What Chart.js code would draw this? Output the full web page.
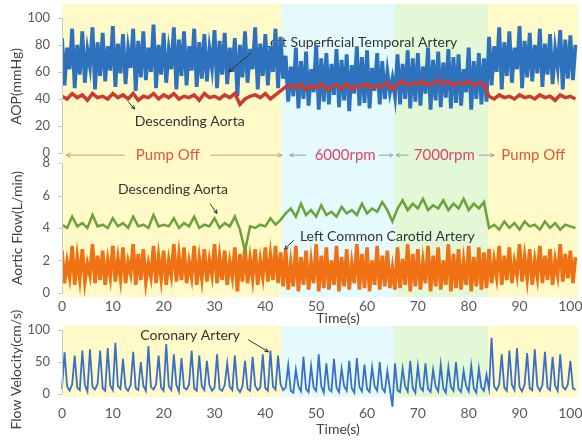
<!DOCTYPE html>
<html><head><meta charset="utf-8">
<script src="https://cdn.jsdelivr.net/npm/chart.js@4.4.1/dist/chart.umd.min.js"></script>
<style>
html,body{margin:0;padding:0;background:#fff;}
#wrap{position:relative;width:582px;height:443px;overflow:hidden;background:#fff;}
#c1{position:absolute;left:0;top:0;}
#c2{position:absolute;left:0;top:298px;}
</style></head><body>
<div id="wrap">
<canvas id="c1" width="582" height="330"></canvas>
<canvas id="c2" width="582" height="145"></canvas>
</div>
<script>
// ---------- data ----------
const fastStep = 0.5;   // s between samples of the dense waveforms
const slowStep = 1;     // s between samples of the narrow waveforms
const phaseNames = ['Pump Off', '6000rpm', '7000rpm', 'Pump Off'];
const phaseBounds = [0, 43.2, 65.4, 83.8, 101.5];
const xTicks = [0, 10, 20, 30, 40, 50, 60, 70, 80, 90, 100];
const aopTicks = [0, 20, 40, 60, 80, 100];
const flowTicks = [0, 2, 4, 6, 8];
const velTicks = [0, 50, 100];

// AOP, Left Superficial Temporal Artery (mmHg), every 0.5 s
const temporalAOP = [
 85,50,78,62,92,48,80,58,90,52,76,64,93,47,82,57,89,53,79,61,
 94,49,81,59,88,51,77,63,92,46,83,56,90,54,78,60,95,48,80,58,
 89,52,76,62,93,47,84,57,90,50,79,61,92,49,82,55,88,53,77,63,
 91,48,83,58,89,51,78,60,85,42,80,56,90,52,77,62,93,47,81,57,
 88,50,79,60,92,48,86,55,
 72,38,64,42,78,33,68,40,75,35,62,45,80,32,70,38,74,36,66,43,
 77,34,69,39,73,31,65,44,79,35,71,37,76,33,63,46,74,36,68,40,
 60,45,
 55,42,73,36,66,40,76,33,70,38,74,35,64,44,78,32,69,39,75,34,
 67,41,77,33,71,37,73,35,62,45,78,32,68,40,74,36,70,38,
 86,50,79,60,93,47,82,57,90,52,78,62,94,48,83,56,89,53,80,59,
 92,49,81,58,88,51,77,63,91,47,84,55,87,54,80
];
// AOP, Descending Aorta (mmHg), every 1 s
const descendingAOP = [
 42,40,44,41,43,39,44,41,42,40,
 44,41,43,40,44,39,42,41,44,40,
 43,41,44,40,42,41,43,39,44,41,
 42,40,43,41,44,36,40,42,43,41,
 44,40,43,46,49,50,48,51,47,50,
 48,51,47,49,50,48,51,47,50,49,
 51,48,50,49,52,47,51,53,50,52,
 51,53,50,52,54,51,53,50,52,51,
 53,50,52,51,42,40,43,41,42,40,
 43,41,42,40,43,41,42,39,43,41,
 42,40
];
// Aortic flow, Descending Aorta (L/min), every 1 s
const descendingFlow = [
 4.2,4.0,4.7,4.1,4.3,4.0,4.8,4.1,4.2,4.0,
 4.6,4.1,4.3,4.0,4.7,4.1,4.2,4.0,4.8,4.1,
 4.2,4.1,4.6,4.0,4.3,4.1,4.7,4.0,4.2,4.1,
 4.6,4.0,4.3,4.1,4.7,3.9,2.6,4.1,4.0,4.2,
 4.1,4.6,4.2,4.5,4.9,5.2,4.7,5.5,4.8,5.1,
 4.7,5.4,4.8,5.0,4.7,5.3,4.9,5.1,4.8,5.5,
 4.9,5.2,5.0,5.6,5.1,4.4,5.2,5.7,5.1,5.5,
 5.2,5.8,5.1,5.4,5.2,5.7,5.1,5.5,5.2,5.8,
 5.1,5.5,5.2,5.6,4.0,4.2,3.9,4.4,4.0,4.3,
 3.9,4.4,4.1,4.2,3.9,4.4,4.0,4.3,3.9,4.2,
 4.1,4.0
];
// Aortic flow, Left Common Carotid Artery (L/min), every 0.5 s
const carotidFlow = [
 2.6,0.6,1.9,1.0,2.9,0.5,2.2,0.9,2.7,0.7,1.8,1.1,3.0,0.6,2.3,0.8,2.6,0.5,2.0,1.0,
 2.9,0.7,2.1,0.9,2.8,0.6,1.9,1.2,3.0,0.5,2.4,0.8,2.7,0.7,1.8,1.0,2.9,0.6,2.2,0.9,
 2.6,0.5,2.0,1.1,3.0,0.7,2.3,0.8,2.8,0.6,1.9,1.0,2.9,0.5,2.1,0.9,2.7,0.7,2.0,1.1,
 3.0,0.6,2.2,0.8,2.6,0.5,1.9,1.0,2.8,0.1,2.4,0.7,2.9,0.6,2.1,0.9,2.7,0.5,2.0,1.0,
 2.8,0.7,2.3,0.8,2.9,0.6,2.5,0.4,
 2.7,0.2,1.8,0.4,2.9,0.1,2.2,0.5,2.6,0.2,1.9,0.6,3.0,0.1,2.3,0.3,2.8,0.2,2.0,0.5,
 2.9,0.1,2.2,0.4,2.7,0.2,1.8,0.6,3.0,0.2,2.4,0.3,2.8,0.1,2.0,0.5,2.9,0.2,2.3,0.4,
 2.6,0.3,
 1.5,0.2,2.8,0.3,2.1,0.5,3.0,0.1,2.4,0.4,2.7,0.2,1.9,0.6,2.9,0.1,2.3,0.4,2.8,0.2,
 2.0,0.5,3.0,0.1,2.4,0.3,2.7,0.2,1.9,0.5,2.9,0.1,2.2,0.4,2.8,0.2,2.5,0.3,
 2.7,0.6,2.0,1.0,2.9,0.5,2.3,0.8,2.8,0.6,1.9,1.1,3.0,0.7,2.2,0.9,2.7,0.5,2.0,1.0,
 2.9,0.6,2.3,0.8,2.7,0.5,2.0,1.1,3.0,0.7,2.4,0.9,2.6,0.6,2.2
];
// Flow velocity, Coronary Artery (cm/s), every 0.5 s
const coronaryVel = [
 8,65,12,5,15,60,10,6,68,14,4,70,11,7,16,68,9,5,72,13,
 6,80,12,8,55,10,5,14,66,9,6,50,13,5,75,11,7,15,60,10,
 5,78,12,6,62,14,4,56,10,7,15,68,9,5,60,12,6,52,14,5,
 10,62,8,5,14,48,11,6,60,9,3,12,52,8,5,58,13,6,10,62,
 9,5,68,12,7,60,15,6,
 10,45,5,2,38,12,4,58,8,3,44,10,5,62,12,2,48,8,4,55,
 10,3,40,12,5,52,9,2,56,11,4,46,8,3,42,12,5,50,9,3,
 36,8,
 -20,48,6,3,40,12,4,52,9,2,44,10,5,48,8,3,38,12,4,46,
 9,2,42,11,5,50,8,3,36,12,4,44,9,2,40,10,5,30,
 8,88,12,6,15,62,10,5,68,14,6,72,11,4,15,64,9,6,70,12,
 5,14,66,10,6,58,13,5,62,11,7,15,52,9,6
];

// ---------- styling ----------
const FONT = 'Lato, "Open Sans", sans-serif';
const TICK_COLOR = '#595959';
const phaseColors = ['rgba(255,250,200,1)', 'rgba(228,250,252,1)', 'rgba(226,248,214,1)', 'rgba(255,250,200,1)'];

function toPoints(arr, dt) { return arr.map((v, i) => ({x: i * dt, y: v})); }
function setTicks(list) { return s => { s.ticks = list.map(v => ({value: v})); }; }

function arrow(ctx, x1, y1, x2, y2, head) {
  ctx.beginPath(); ctx.moveTo(x1, y1); ctx.lineTo(x2, y2); ctx.stroke();
  if (head) {
    const a = Math.atan2(y2 - y1, x2 - x1), h = head;
    ctx.beginPath();
    ctx.moveTo(x2, y2);
    ctx.lineTo(x2 - h * Math.cos(a - 0.45), y2 - h * Math.sin(a - 0.45));
    ctx.moveTo(x2, y2);
    ctx.lineTo(x2 - h * Math.cos(a + 0.45), y2 - h * Math.sin(a + 0.45));
    ctx.stroke();
  }
}

function shade(chart) {
  const {ctx, chartArea: a} = chart, x = chart.scales.x;
  ctx.save();
  for (let i = 0; i < phaseColors.length; i++) {
    const l = x.getPixelForValue(phaseBounds[i]), r = x.getPixelForValue(phaseBounds[i + 1]);
    ctx.fillStyle = phaseColors[i];
    ctx.fillRect(l, a.top, r - l, a.bottom - a.top);
  }
  ctx.restore();
}

function yAxisLine(chart, scale, ticks) {
  const ctx = chart.ctx, x0 = chart.chartArea.left;
  ctx.save();
  ctx.strokeStyle = '#c8c8c8'; ctx.lineWidth = 1;
  ctx.beginPath();
  ctx.moveTo(x0 + 0.5, scale.getPixelForValue(ticks[0]));
  ctx.lineTo(x0 + 0.5, scale.getPixelForValue(ticks[ticks.length - 1]));
  for (const t of ticks) {
    const y = Math.round(scale.getPixelForValue(t)) + 0.5;
    ctx.moveTo(x0 - 4, y); ctx.lineTo(x0 + 0.5, y);
  }
  ctx.stroke();
  ctx.restore();
}

function vTitle(ctx, text, x, y) {
  ctx.save();
  ctx.translate(x, y); ctx.rotate(-Math.PI / 2);
  ctx.font = '14px ' + FONT; ctx.fillStyle = '#404040';
  ctx.textAlign = 'center'; ctx.textBaseline = 'middle';
  ctx.fillText(text, 0, 0);
  ctx.restore();
}

function label(ctx, text, x, y, color, size, align) {
  ctx.save();
  ctx.font = (size || 14) + 'px ' + FONT; ctx.fillStyle = color || '#333';
  ctx.textAlign = align || 'left'; ctx.textBaseline = 'middle';
  ctx.fillText(text, x, y);
  ctx.restore();
}

function pointer(ctx, x1, y1, x2, y2) {
  ctx.save(); ctx.strokeStyle = '#333'; ctx.lineWidth = 1;
  arrow(ctx, x1, y1, x2, y2, 4); ctx.restore();
}

const xScaleBase = (height, pad) => ({
  type: 'linear', min: 0, max: 101.5, position: 'bottom',
  grid: {display: false, drawTicks: false}, border: {display: false},
  ticks: {padding: pad, font: {family: FONT, size: 14}, color: TICK_COLOR, maxRotation: 0, autoSkip: false},
  afterBuildTicks: setTicks(xTicks),
  afterFit: s => { s.height = height; s.paddingLeft = 0; s.paddingRight = 0; }
});
const yBase = (list, min, max) => ({
  type: 'linear', position: 'left', min, max,
  grid: {display: false, drawTicks: false}, border: {display: false},
  ticks: {padding: 12, font: {family: FONT, size: 13}, color: TICK_COLOR, autoSkip: false},
  afterBuildTicks: setTicks(list),
  afterFit: s => { s.width = 62; s.paddingTop = 0; s.paddingBottom = 0; }
});

// ---------- chart 1: AOP + Aortic Flow ----------
const plugin1 = {
  id: 'p1',
  beforeDatasetsDraw(chart) {
    shade(chart);
    const ctx = chart.ctx, x = chart.scales.x, yA = chart.scales.yAop;
    label(ctx, 'Left Superficial Temporal Artery', x.getPixelForValue(39.6), yA.getPixelForValue(82), '#333', 14);
  },
  afterDraw(chart) {
    const ctx = chart.ctx, x = chart.scales.x, yA = chart.scales.yAop, yF = chart.scales.yFlow;
    yAxisLine(chart, yA, aopTicks);
    yAxisLine(chart, yF, flowTicks);
    vTitle(ctx, 'AOP(mmHg)', 16, (yA.getPixelForValue(0) + yA.getPixelForValue(100)) / 2 + 1);
    vTitle(ctx, 'Aortic Flow(L/min)', 17, (yF.getPixelForValue(0) + yF.getPixelForValue(8)) / 2);
    // series notes
    pointer(ctx, x.getPixelForValue(37.2), yA.getPixelForValue(74), x.getPixelForValue(32.8), yA.getPixelForValue(60));
    label(ctx, 'Descending Aorta', x.getPixelForValue(14.3), yA.getPixelForValue(23.5), '#333', 14);
    pointer(ctx, x.getPixelForValue(13), yA.getPixelForValue(38), x.getPixelForValue(14.3), yA.getPixelForValue(32.5));
    label(ctx, 'Descending Aorta', x.getPixelForValue(11), yF.getPixelForValue(6.4), '#333', 14);
    pointer(ctx, x.getPixelForValue(29.1), yF.getPixelForValue(5.5), x.getPixelForValue(30.5), yF.getPixelForValue(4.9));
    label(ctx, 'Left Common Carotid Artery', x.getPixelForValue(46.8), yF.getPixelForValue(3.45), '#333', 14);
    pointer(ctx, x.getPixelForValue(45.6), yF.getPixelForValue(3.25), x.getPixelForValue(43.8), yF.getPixelForValue(2.7));
    // phase row
    const ry = yA.getPixelForValue(-1.6);
    const px = v => x.getPixelForValue(v);
    ctx.save(); ctx.lineWidth = 1;
    ctx.strokeStyle = '#c9a070';
    arrow(ctx, px(12.3), ry, px(0.8), ry, 5);
    arrow(ctx, px(29.2), ry, px(43.3), ry, 5);
    ctx.strokeStyle = '#9aa0a8';
    arrow(ctx, px(48.0), ry, px(44.8), ry, 4);
    arrow(ctx, px(62.3), ry, px(65.1), ry, 4);
    arrow(ctx, px(68.2), ry, px(65.7), ry, 4);
    arrow(ctx, px(82.0), ry, px(85.0), ry, 4);
    ctx.restore();
    label(ctx, phaseNames[0], px(20.8), ry, '#e2573a', 15, 'center');
    label(ctx, phaseNames[1], px(55.7), ry, '#e04468', 15, 'center');
    label(ctx, phaseNames[2], px(75.2), ry, '#e04468', 15, 'center');
    label(ctx, phaseNames[3], px(92.7), ry, '#e2573a', 15, 'center');
    label(ctx, 'Time(s)', px(54.3), 318, '#404040', 14, 'center');
  }
};

new Chart(document.getElementById('c1'), {
  type: 'line',
  data: {datasets: [
    {label: 'Descending Aorta (AOP)', data: toPoints(descendingAOP, slowStep), yAxisID: 'yAop', borderColor: '#cc3b30', borderWidth: 3.5},
    {label: 'Left Superficial Temporal Artery', data: toPoints(temporalAOP, fastStep), yAxisID: 'yAop', borderColor: '#2e72bd', borderWidth: 3.8},
    {label: 'Descending Aorta (flow)', data: toPoints(descendingFlow, slowStep), yAxisID: 'yFlow', borderColor: '#6aa33a', borderWidth: 2.5},
    {label: 'Left Common Carotid Artery', data: toPoints(carotidFlow, fastStep), yAxisID: 'yFlow', borderColor: '#f07014', borderWidth: 3.6}
  ]},
  options: {
    responsive: false, animation: false, events: [],
    layout: {padding: {top: 4, right: 4, left: 0, bottom: 0}},
    elements: {point: {radius: 0}, line: {tension: 0}},
    plugins: {legend: {display: false}, tooltip: {enabled: false}},
    scales: {
      x: xScaleBase(33, 1),
      yFlow: Object.assign(yBase(flowTicks, -0.25, 8.31), {stack: 'panels', stackWeight: 139, weight: 1}),
      yAop: Object.assign(yBase(aopTicks, -3.7, 110.3), {stack: 'panels', stackWeight: 154, weight: 2})
    }
  },
  plugins: [plugin1]
});

// ---------- chart 2: Flow Velocity ----------
const plugin2 = {
  id: 'p2',
  beforeDatasetsDraw(chart) { shade(chart); },
  afterDraw(chart) {
    const ctx = chart.ctx, x = chart.scales.x, y = chart.scales.yVel;
    yAxisLine(chart, y, velTicks);
    vTitle(ctx, 'Flow Velocity(cm/s)', 16, y.getPixelForValue(38));
    label(ctx, 'Coronary Artery', x.getPixelForValue(15.4), y.getPixelForValue(92), '#333', 14);
    pointer(ctx, x.getPixelForValue(36.6), y.getPixelForValue(85), x.getPixelForValue(40.6), y.getPixelForValue(66));
    label(ctx, 'Time(s)', x.getPixelForValue(54.3), 131, '#404040', 14, 'center');
  }
};

new Chart(document.getElementById('c2'), {
  type: 'line',
  data: {datasets: [
    {label: 'Coronary Artery', data: toPoints(coronaryVel, fastStep), yAxisID: 'yVel', borderColor: '#3a6fc6', borderWidth: 1.8, clip: 20}
  ]},
  options: {
    responsive: false, animation: false, events: [],
    layout: {padding: {top: 28, right: 4, left: 0, bottom: 0}},
    elements: {point: {radius: 0}, line: {tension: 0}},
    plugins: {legend: {display: false}, tooltip: {enabled: false}},
    scales: {
      x: xScaleBase(46, 8),
      yVel: yBase(velTicks, -4.7, 106.3)
    }
  },
  plugins: [plugin2]
});
</script>
</body></html>
